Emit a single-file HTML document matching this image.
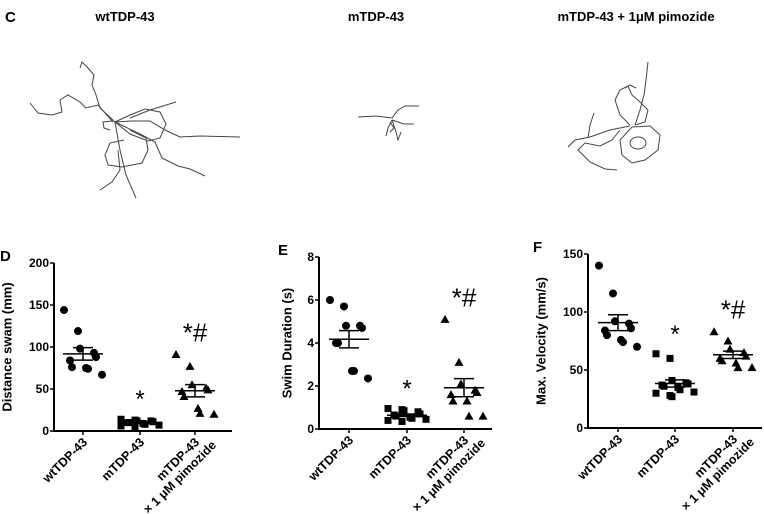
<!DOCTYPE html>
<html><head><meta charset="utf-8"><style>
body{margin:0;background:#fff;}
svg{display:block;font-family:"Liberation Sans",Arial,sans-serif;}
</style></head><body>
<svg id="fig" width="764" height="514" viewBox="0 0 764 514">
<g>
<text x="5" y="22" font-size="15" font-weight="bold">C</text>
<text x="125" y="21" font-size="13" font-weight="bold" text-anchor="middle">wtTDP-43</text>
<text x="376" y="21" font-size="13" font-weight="bold" text-anchor="middle">mTDP-43</text>
<text x="636" y="21" font-size="13" font-weight="bold" text-anchor="middle">mTDP-43 + 1μM pimozide</text>
<g fill="none" stroke="#444" stroke-width="1">
<path d="M115,122 L100,108 L96,95 L92,85 L94,75 L88,68 L82,62 L80,68"/>
<path d="M30,103 L38,113 L52,115 L62,112 L60,100 L68,95 L80,102 L86,108 L98,105 L113,122"/>
<path d="M115,122 L132,121 L150,121 L165,130 L180,137 L200,136 L240,137"/>
<path d="M115,122 L140,134 L155,142 L162,158 L178,166 L190,169 L205,176"/>
<path d="M115,122 L130,115 L145,109 L160,112 L166,124 L160,138 L148,141 L130,134 L115,122"/>
<path d="M124,140 L110,143 L105,155 L108,165 L122,167 L142,163 L148,150 L146,138 L130,130"/>
<path d="M115,122 L120,150 L126,175 L136,198"/>
<path d="M118,150 L120,170 L112,182 L100,190"/>
<path d="M110,130 L104,128 L103,122 L112,121 M130,118 L150,110 L176,102"/>
<path d="M358,117 L376,116 L392,118 L398,110 L405,106 L419,106"/>
<path d="M392,120 L388,128 L386,136 M392,120 L396,132 L398,140 L401,132 M392,120 L404,124 L414,124 M390,122 L394,128 L390,132"/>
<path d="M635,125 L640,110 L644,95 L646,80 L648,62"/>
<path d="M630,125 L620,115 L615,100 L620,90 L628,86 L632,95 L640,102 L648,110 L645,122 L635,125"/>
<path d="M628,86 L625,88 L630,85 L636,88"/>
<path d="M632,127 L650,126 L660,135 L658,150 L645,160 L632,163 L622,155 L620,140 L632,127"/>
<path d="M630,143 a8,6 0 1,0 16,0 a8,6 0 1,0 -16,0"/>
<path d="M630,126 L610,130 L590,137 L575,140 L568,147 M588,138 L590,125 L594,113"/>
<path d="M620,130 L612,140 L600,146 L585,143 L578,150 L590,162 L605,169 L617,170"/>
</g>
</g>
<g id="plots"></g>
</svg>
<script>
const categories = ["wtTDP-43","mTDP-43","mTDP-43\n× 1 μM pimozide"];
const dWt = [144,119,98,93,88,84,76,75,74,67];
const dM = [14,13,12,12,11,10,10,9,8,7,6,5];
const dP = [91,77,55,51,49,47,41,27,21,20];
const eWt = [6.0,5.7,4.8,4.8,4.7,4.0,4.0,2.7,2.7,2.35];
const eM = [0.95,0.9,0.85,0.8,0.7,0.65,0.6,0.55,0.5,0.45,0.4,0.35];
const eP = [5.1,3.1,2.1,1.8,1.7,1.6,1.3,1.3,0.6,0.6];
const fWt = [140,116,92,90,86,84,80,76,74,70];
const fM = [64,60,41,39,38,37,36,35,33,31,30,28,27];
const fP = [83,75,68,65,62,60,58,56,52,52];
const dTicks = [0,50,100,150,200];
const eTicks = [0,2,4,6,8];
const fTicks = [0,50,100,150];

const NS="http://www.w3.org/2000/svg";
const root=document.getElementById('plots');
function mk(tag,attrs,parent){const e=document.createElementNS(NS,tag);for(const k in attrs)e.setAttribute(k,attrs[k]);(parent||root).appendChild(e);return e;}
function mean(a){return a.reduce((s,v)=>s+v,0)/a.length;}
function sem(a){const m=mean(a);return Math.sqrt(a.reduce((s,v)=>s+(v-m)*(v-m),0)/(a.length-1))/Math.sqrt(a.length);}

function panel(cfg){
  const g=mk('g',{});
  
  
  const y=v=>cfg.y0-(v/cfg.max)*(cfg.y0-cfg.yTop);
  const xs=cfg.xs;
  const lbl=mk('text',{x:cfg.labelX,y:cfg.yTop-2,'font-size':15,'font-weight':'bold'},g);
  lbl.textContent=cfg.id.toUpperCase();
  
  
  const ax=mk('path',{d:`M${cfg.ax},${cfg.yTop} V${cfg.y0} H${cfg.xEnd}`,stroke:'#000','stroke-width':2,fill:'none'},g);
  
  
  let digits=1;
  cfg.ticks.forEach(t=>{
    digits=Math.max(digits,String(t).length);
    const tk=mk('line',{x1:cfg.ax-4,x2:cfg.ax,y1:y(t),y2:y(t),stroke:'#000','stroke-width':1.5},g);
    
    
    const tl=mk('text',{x:cfg.ax-5,y:y(t)+4,'font-size':12,'font-weight':'bold','text-anchor':'end'},g);
    tl.textContent=t;
    
    
  });
  const yt=mk('text',{transform:`translate(${cfg.ax-(20+7.5*digits)},${(cfg.y0+cfg.yTop)/2}) rotate(-90)`,'font-size':13,'font-weight':'bold','text-anchor':'middle'},g);
  yt.textContent=cfg.title;
  
  
  cfg.groups.forEach((arr,i)=>{
    const cx=xs[i];
    const tk=mk('line',{x1:cx,x2:cx,y1:cfg.y0,y2:cfg.y0+4,stroke:'#000','stroke-width':1.5},g);
    
    
    const parts=categories[i].split('\n');
    const t=mk('text',{transform:`translate(${cx+5},${cfg.y0+12}) rotate(-45)`,'font-size':12.5,'font-weight':'bold','text-anchor':'end'},g);
    
    
    parts.forEach((p,k)=>{const ts=mk('tspan',{x:k?10:0,dy:k?14:0},t);ts.textContent=p;});
    arr.forEach((v,j)=>{
      const off=((j%5)-2)*8+(j%2?3:-3);
      const px=cx+off, py=y(v);
      let m;
      if(i===0) m=mk('circle',{cx:px,cy:py,r:4,fill:'#000'},g);
      else if(i===1) m=mk('rect',{x:px-3.5,y:py-3.5,width:7,height:7,fill:'#000'},g);
      else m=mk('path',{d:`M${px},${py-4.5} L${px+4.5},${py+3.5} L${px-4.5},${py+3.5}Z`,fill:'#000'},g);
      
      
    });
    const mu=mean(arr), se=sem(arr);
    const ml=mk('line',{x1:cx-20,x2:cx+20,y1:y(mu),y2:y(mu),stroke:'#000','stroke-width':1.5},g);
    
    
    const eb=mk('path',{d:`M${cx},${y(mu+se)} V${y(mu-se)} M${cx-10},${y(mu+se)} H${cx+10} M${cx-10},${y(mu-se)} H${cx+10}`,stroke:'#000','stroke-width':1.5,fill:'none'},g);
    
    
    if(i>0){
      const top=Math.max(...arr);
      const st=mk('text',{x:cx,y:i===1?y(top)-12:y(top)-13,'font-size':i===1?24:26,'text-anchor':'middle'},g);
      st.textContent=i===1?'*':'*#';
      
      
    }
  });
}
panel({id:'d',ax:54,y0:431,yTop:263,max:200,xEnd:232,xs:[83,140,195],ticks:dTicks,title:'Distance swam (mm)',labelX:0,groups:[dWt,dM,dP]});
panel({id:'e',ax:319,y0:429,yTop:257,max:8,xEnd:492,xs:[349,407,464],ticks:eTicks,title:'Swim Duration (s)',labelX:278,groups:[eWt,eM,eP]});
panel({id:'f',ax:588,y0:428,yTop:254,max:150,xEnd:762,xs:[618,675,733],ticks:fTicks,title:'Max. Velocity (mm/s)',labelX:533,groups:[fWt,fM,fP]});
</script>
</body></html>
